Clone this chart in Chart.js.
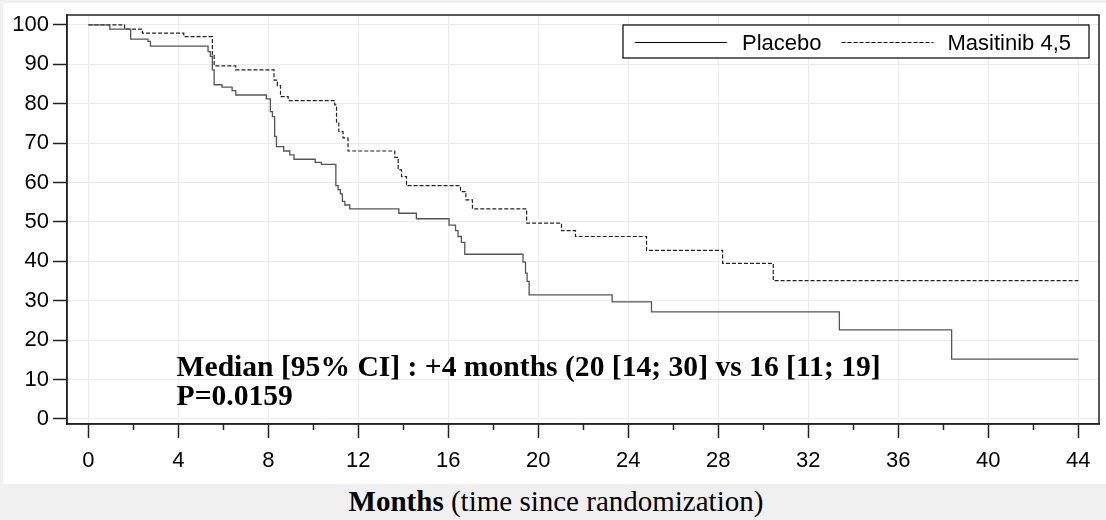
<!DOCTYPE html>
<html>
<head>
<meta charset="utf-8">
<script src="https://cdn.jsdelivr.net/npm/chart.js@4"></script>
<style>
  html, body { margin: 0; padding: 0; background: #f0f0f0; }
  body { width: 1106px; height: 520px; position: relative; overflow: hidden; }
  #panel { position: absolute; left: 3px; top: 3px; width: 1103px; height: 481px; background: #fff; }
  #xtitle { position: absolute; left: 6px; top: 485px; width: 1100px; height: 36px; line-height: 36px;
            text-align: center; font: 29px "Liberation Serif", "Times New Roman", serif; color: #000; }
</style>
</head>
<body>
<div id="panel"><canvas id="km"></canvas></div>
<div id="xtitle"><b>Months</b> (time since randomization)</div>
<script>
// Kaplan-Meier steps (months, % surviving)
const placeboMonths = [0, 0.95, 1.88, 2.65, 2.76, 5.32, 5.42, 5.51, 5.59, 5.94, 6.39, 6.55, 7.91, 8.09, 8.18, 8.28, 8.36,
  8.68, 8.95, 9.14, 10.08, 10.36, 11.0, 11.1, 11.2, 11.29, 11.4, 11.62, 13.8, 14.58, 16.03, 16.32, 16.43, 16.58, 16.73,
  19.32, 19.43, 19.5, 19.59, 23.28, 25.03, 33.38, 38.37, 44];
const placeboSurv = [100, 98.9, 96.4, 95.8, 94.6, 93.2, 92.0, 88.6, 84.8, 84.2, 83.3, 82.2, 81.2, 78.0, 76.7, 71.7, 69.1,
  68.0, 67.0, 65.9, 65.1, 64.6, 59.2, 58.2, 57.1, 55.2, 54.3, 53.3, 52.2, 50.8, 49.2, 47.8, 46.3, 44.8, 41.8,
  39.8, 37.0, 34.9, 31.5, 29.7, 27.2, 22.6, 15.2, 15.2];

const masitinibMonths = [0, 1.61, 2.4, 4.24, 5.51, 5.59, 6.55, 8.25, 8.4, 8.54, 8.88, 10.95, 11.03, 11.13, 11.32, 11.54,
  13.62, 13.77, 13.92, 14.14, 16.54, 16.78, 17.07, 19.48, 21.03, 21.65, 24.81, 28.19, 30.44, 44];
const masitinibSurv = [100, 98.9, 97.9, 97.0, 92.4, 89.6, 88.6, 86.0, 84.6, 81.8, 80.8, 79.7, 75.1, 72.9, 71.3, 68.0,
  66.4, 63.2, 61.5, 59.2, 57.7, 55.6, 53.3, 49.7, 47.8, 46.3, 42.8, 39.5, 35.1, 35.1];

const xTicks = [0, 2, 4, 6, 8, 10, 12, 14, 16, 18, 20, 22, 24, 26, 28, 30, 32, 34, 36, 38, 40, 42, 44];
const yTicks = [0, 10, 20, 30, 40, 50, 60, 70, 80, 90, 100];
const seriesNames = ['Placebo', 'Masitinib 4,5'];
const noteLines = ['Median [95% CI] : +4 months (20 [14; 30] vs 16 [11; 19]', 'P=0.0159'];

const SANS = '"Liberation Sans", Arial, sans-serif';
const SERIF = '"Liberation Serif", "Times New Roman", serif';
const FRAME = '#222';

const toPoints = (xs, ys) => xs.map((x, i) => ({ x: x, y: ys[i] }));
const isMajor = v => v % 4 === 0;

// frame, minor ticks, inset legend and the median note
const decorations = {
  id: 'decorations',
  afterDraw(chart) {
    const ctx = chart.ctx;
    const a = chart.chartArea;
    const xs = chart.scales.x;
    const ys = chart.scales.y;
    ctx.save();

    // minor x ticks
    ctx.strokeStyle = FRAME;
    ctx.lineWidth = 1.5;
    xTicks.filter(v => !isMajor(v)).forEach(v => {
      const px = Math.round(xs.getPixelForValue(v)) + 0.5;
      ctx.beginPath();
      ctx.moveTo(px, a.bottom);
      ctx.lineTo(px, a.bottom + 6);
      ctx.stroke();
    });

    // frame
    ctx.strokeRect(a.left, a.top, a.right - a.left, a.bottom - a.top);

    // legend box
    ctx.font = '22px ' + SANS;
    const sets = chart.data.datasets;
    const lineLen = 92;
    const w0 = ctx.measureText(sets[0].label).width;
    const w1 = ctx.measureText(sets[1].label).width;
    const boxW = 12 + lineLen + 15 + w0 + 20 + lineLen + 14 + w1 + 18;
    const boxH = 33;
    const bx = a.right - 10 - boxW;
    const by = a.top + 10;
    ctx.fillStyle = '#fff';
    ctx.fillRect(bx, by, boxW, boxH);
    ctx.lineWidth = 1.2;
    ctx.strokeStyle = '#000';
    ctx.strokeRect(bx, by, boxW, boxH);
    const cy = Math.round(by + boxH / 2) + 0.5;
    let cx = bx + 12;
    ctx.textBaseline = 'middle';
    ctx.fillStyle = '#000';
    [[sets[0], w0, 20], [sets[1], w1, 0]].forEach(([ds, w, gap], i) => {
      ctx.beginPath();
      ctx.setLineDash(ds.borderDash || []);
      ctx.lineWidth = 1;
      ctx.strokeStyle = '#000';
      ctx.moveTo(cx, cy);
      ctx.lineTo(cx + lineLen, cy);
      ctx.stroke();
      ctx.setLineDash([]);
      cx += lineLen + (i === 0 ? 15 : 14);
      ctx.fillText(ds.label, cx, cy + 1);
      cx += w + gap;
    });

    // median / p-value note
    ctx.font = 'bold 29.6px ' + SERIF;
    ctx.textBaseline = 'alphabetic';
    ctx.textAlign = 'left';
    const nx = xs.getPixelForValue(3.92);
    ctx.fillText(noteLines[0], nx, ys.getPixelForValue(10.8));
    ctx.fillText(noteLines[1], nx, ys.getPixelForValue(3.6));
    ctx.restore();
  }
};

new Chart(document.getElementById('km'), {
  type: 'line',
  data: {
    datasets: [
      {
        label: seriesNames[0],
        data: toPoints(placeboMonths, placeboSurv),
        borderColor: '#555',
        borderWidth: 1.3,
        stepped: true,
        pointRadius: 0,
        fill: false
      },
      {
        label: seriesNames[1],
        data: toPoints(masitinibMonths, masitinibSurv),
        borderColor: '#222',
        borderWidth: 1.2,
        borderDash: [4, 2],
        stepped: true,
        pointRadius: 0,
        fill: false
      }
    ]
  },
  options: {
    responsive: true,
    maintainAspectRatio: false,
    animation: false,
    devicePixelRatio: 1,
    layout: { padding: { left: 0, right: 7, top: 12, bottom: 0 } },
    plugins: {
      legend: { display: false },
      tooltip: { enabled: false }
    },
    scales: {
      x: {
        type: 'linear',
        min: -0.95,
        max: 44.92,
        afterBuildTicks: s => { s.ticks = xTicks.map(v => ({ value: v })); },
        afterFit: s => { s.height = 60; s.paddingLeft = 0; s.paddingRight = 0; },
        ticks: {
          autoSkip: false,
          maxRotation: 0,
          padding: 10,
          color: '#000',
          font: { family: SANS, size: 22 },
          callback: v => (isMajor(v) ? String(v) : '')
        },
        grid: {
          color: c => (c.tick && isMajor(c.tick.value) ? '#ebebeb' : 'rgba(0,0,0,0)'),
          tickColor: c => (c.tick && isMajor(c.tick.value) ? FRAME : 'rgba(0,0,0,0)'),
          tickLength: 14,
          tickWidth: 1.5
        },
        border: { color: FRAME, width: 1.5 }
      },
      y: {
        type: 'linear',
        min: -1.27,
        max: 102.5,
        afterBuildTicks: s => { s.ticks = yTicks.map(v => ({ value: v })); },
        afterFit: s => { s.width = 64; s.paddingTop = 0; s.paddingBottom = 0; },
        ticks: {
          padding: 4,
          color: '#000',
          font: { family: SANS, size: 22 }
        },
        grid: {
          color: '#ebebeb',
          tickColor: FRAME,
          tickLength: 14,
          tickWidth: 1.5
        },
        border: { color: FRAME, width: 1.5 }
      }
    }
  },
  plugins: [decorations]
});
</script>
</body>
</html>
